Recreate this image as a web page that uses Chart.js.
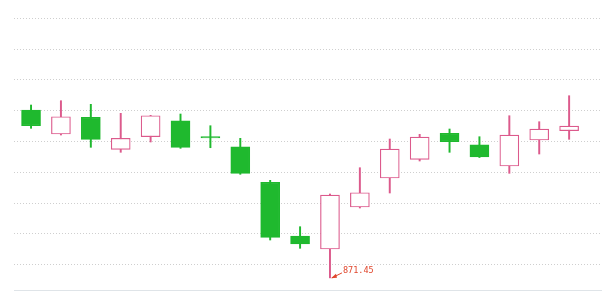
<!DOCTYPE html>
<html>
<head>
<meta charset="utf-8">
<script src="https://cdn.jsdelivr.net/npm/chart.js@4/dist/chart.umd.min.js"></script>
<style>
html,body{margin:0;padding:0;background:#fff;}
#wrap{width:602px;height:302px;}
</style>
</head>
<body>
<div id="wrap"><canvas id="c" width="602" height="302"></canvas></div>
<script>
const categories = ['1','2','3','4','5','6','7','8','9','10','11','12','13','14','15','16','17','18','19'];
const opens  = [980.45, 964.87, 975.71, 954.94, 963.12, 973.51, 962.27, 956.62, 933.51, 898.64, 890.19, 917.47, 936.30, 948.44, 965.32, 957.92, 944.09, 960.97, 967.01];
const closes = [970.26, 976.10, 961.43, 962.08, 976.75, 956.23, 962.27, 939.35, 897.79, 893.44, 925.26, 926.75, 955.13, 962.92, 959.87, 949.94, 964.22, 968.12, 970.06];
const highs  = [983.70, 986.50, 984.16, 978.31, 977.00, 977.86, 970.26, 962.08, 934.81, 904.68, 925.91, 942.99, 961.62, 964.68, 968.12, 963.12, 976.75, 972.86, 989.74];
const lows   = [968.57, 964.22, 956.23, 952.99, 959.68, 955.58, 955.97, 938.70, 896.04, 890.65, 871.45, 916.82, 926.56, 947.34, 952.99, 949.60, 939.35, 951.88, 961.43];
const yTicks = [880, 900, 920, 940, 960, 980, 1000, 1020, 1040];
const minLabel = '871.45';

const UP = '#dc5a8c';
const DOWN = '#1fb92e';
const isUp = categories.map((c, i) => closes[i] > opens[i]);

const minIdx = lows.indexOf(Math.min(...lows));

const annotate = {
  id: 'annotate',
  afterDatasetsDraw(chart) {
    const ctx = chart.ctx;
    const xs = chart.scales.x, ys = chart.scales.y;
    const px = xs.getPixelForValue(minIdx);
    const py = ys.getPixelForValue(lows[minIdx]);
    ctx.save();
    ctx.strokeStyle = '#e0462c';
    ctx.fillStyle = '#e0462c';
    ctx.lineWidth = 1;
    ctx.beginPath();
    ctx.moveTo(px + 2, py);
    ctx.lineTo(px + 12, py - 5);
    ctx.stroke();
    ctx.beginPath();
    ctx.moveTo(px + 1, py + 0.5);
    ctx.lineTo(px + 6, py - 4);
    ctx.lineTo(px + 7, py);
    ctx.closePath();
    ctx.fill();
    ctx.font = '8.5px "DejaVu Sans Mono", monospace';
    ctx.textAlign = 'left';
    ctx.textBaseline = 'middle';
    ctx.fillText(minLabel, px + 13, py - 7);
    ctx.restore();
  }
};

const bottomLine = {
  id: 'bottomLine',
  afterDraw(chart) {
    const {ctx, chartArea} = chart;
    ctx.save();
    ctx.strokeStyle = '#dfe4e8';
    ctx.lineWidth = 1;
    ctx.beginPath();
    ctx.moveTo(chartArea.left, Math.round(chartArea.bottom) + 0.5);
    ctx.lineTo(chartArea.right, Math.round(chartArea.bottom) + 0.5);
    ctx.stroke();
    ctx.restore();
  }
};

new Chart(document.getElementById('c'), {
  type: 'bar',
  data: {
    datasets: [
      {
        label: 'wick',
        data: categories.map((c, i) => ({x: i, y: [lows[i], highs[i]]})),
        backgroundColor: isUp.map(u => u ? UP : DOWN),
        borderWidth: 0,
        barThickness: 1.3,
        grouped: false,
        order: 2
      },
      {
        label: 'body',
        data: categories.map((c, i) => ({x: i, y: [opens[i], closes[i]]})),
        backgroundColor: isUp.map(u => u ? '#ffffff' : DOWN),
        borderColor: isUp.map(u => u ? UP : DOWN),
        borderWidth: 1.2,
        borderSkipped: false,
        barThickness: 19,
        minBarLength: 1.5,
        grouped: false,
        order: 1
      }
    ]
  },
  options: {
    responsive: false,
    devicePixelRatio: 1,
    animation: false,
    layout: {padding: {left: 14, right: 0, top: 0, bottom: 12}},
    plugins: {legend: {display: false}, tooltip: {enabled: false}},
    scales: {
      x: {
        type: 'linear',
        display: false,
        min: -0.57,
        max: 19.1,
        offset: false
      },
      y: {
        min: 863.57,
        max: 1051.9,
        afterBuildTicks: (axis) => { axis.ticks = yTicks.map(v => ({value: v})); },
        ticks: {display: false},
        grid: {color: '#cfcfcf', drawTicks: false, lineWidth: 1},
        border: {display: false, dash: [1, 2]}
      }
    }
  },
  plugins: [annotate, bottomLine]
});
</script>
</body>
</html>
